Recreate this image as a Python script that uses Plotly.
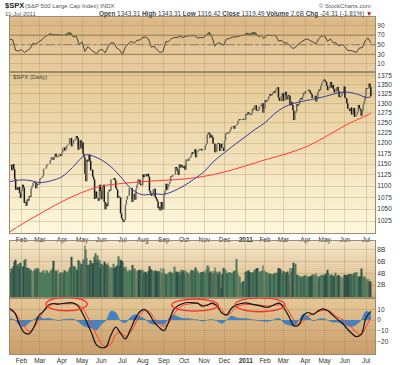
import plotly.graph_objects as go
import math

# ---------------- DATA ----------------
# trading-day index 0 = 13-Jan-2010 ... 375 = 11-Jul-2011
month_start = [12, 31, 54, 75, 95, 117, 138, 160, 181, 202, 223, 245, 265, 284, 307, 327, 348, 370]
month_labels = ['Feb', 'Mar', 'Apr', 'May', 'Jun', 'Jul', 'Aug', 'Sep', 'Oct', 'Nov', 'Dec', '<b>2011</b>',
                'Feb', 'Mar', 'Apr', 'May', 'Jun', 'Jul']

close_2010 = [
    1146, 1148, 1136, 1150, 1138, 1116, 1092, 1097, 1092, 1098, 1085, 1074,
    1089, 1103, 1097, 1063, 1066, 1057, 1071, 1068, 1078, 1076, 1095, 1100, 1107, 1109, 1108, 1095, 1105, 1103, 1104,
    1116, 1118, 1119, 1123, 1139, 1139, 1140, 1146, 1150, 1150, 1151, 1159, 1166, 1166, 1160, 1166, 1174, 1168, 1166, 1167, 1173, 1173, 1169,
    1178, 1187, 1189, 1182, 1186, 1194, 1196, 1197, 1211, 1212, 1192, 1198, 1207, 1206, 1209, 1217, 1212, 1184, 1191, 1207, 1187,
    1202, 1174, 1166, 1128, 1111, 1160, 1156, 1172, 1157, 1136, 1137, 1121, 1115, 1072, 1088, 1074, 1074, 1068, 1103, 1089,
    1071, 1098, 1103, 1065, 1050, 1062, 1056, 1087, 1092, 1090, 1115, 1115, 1116, 1118, 1113, 1095, 1092, 1074, 1077, 1075, 1041, 1031,
    1027, 1023, 1028, 1060, 1070, 1078, 1079, 1095, 1095, 1096, 1065, 1071, 1083, 1070, 1094, 1103, 1115, 1114, 1106, 1102, 1102,
    1126, 1120, 1127, 1126, 1122, 1128, 1121, 1089, 1084, 1079, 1079, 1093, 1094, 1076, 1072, 1067, 1052, 1055, 1047, 1065, 1049, 1049,
    1080, 1090, 1105, 1092, 1099, 1104, 1110, 1122, 1121, 1125, 1125, 1126, 1143, 1140, 1134, 1125, 1149, 1142, 1148, 1145, 1141,
    1146, 1137, 1161, 1160, 1158, 1165, 1165, 1170, 1178, 1174, 1176, 1185, 1166, 1178, 1180, 1183, 1186, 1186, 1182, 1184, 1183,
    1184, 1194, 1198, 1221, 1226, 1223, 1213, 1219, 1214, 1199, 1198, 1178, 1179, 1197, 1200, 1198, 1181, 1198, 1189, 1188, 1181,
    1206, 1222, 1225, 1223, 1224, 1228, 1233, 1240, 1240, 1242, 1235, 1243, 1244, 1247, 1255, 1259, 1257, 1258, 1259, 1260, 1258, 1258,
]
close_2011 = [
    1272, 1270, 1277, 1274, 1272, 1270, 1274, 1286, 1284, 1293, 1295, 1282, 1280, 1283, 1291, 1291, 1297, 1300, 1276, 1286,
    1308, 1304, 1307, 1311, 1319, 1325, 1321, 1322, 1329, 1332, 1328, 1336, 1340, 1343, 1315, 1307, 1306, 1320, 1327,
    1306, 1308, 1331, 1321, 1310, 1322, 1320, 1295, 1304, 1296, 1282, 1257, 1274, 1279, 1298, 1294, 1298, 1310, 1314, 1310, 1319, 1328, 1326,
    1332, 1333, 1333, 1336, 1334, 1328, 1324, 1314, 1314, 1315, 1320, 1305, 1313, 1330, 1337, 1335, 1347, 1356, 1360, 1364,
    1361, 1357, 1347, 1335, 1340, 1346, 1357, 1342, 1349, 1338, 1329, 1329, 1341, 1344, 1333, 1317, 1316, 1320, 1326, 1331, 1345,
    1315, 1313, 1300, 1286, 1285, 1280, 1289, 1271, 1272, 1288, 1265, 1268, 1272, 1278, 1296, 1287, 1284, 1268, 1280, 1297, 1307, 1321,
    1340, 1338, 1339, 1353, 1344, 1319,
]

volume_2010 = [  # billions
    4.2, 4.0, 4.8, 4.3, 5.2, 6.0, 6.3, 5.5, 5.3, 5.6, 5.0, 5.8,
    5.2, 5.0, 5.2, 6.2, 6.4, 5.0, 4.8, 4.9, 4.6, 4.5, 4.7, 4.4, 4.3, 4.6, 4.8, 4.6, 4.5, 4.9, 4.7,
    4.2, 4.1, 4.0, 4.3, 4.5, 3.8, 4.0, 4.5, 4.3, 4.0, 3.9, 4.4, 4.6, 4.8, 6.1, 4.2, 4.5, 4.3, 4.4, 4.6, 3.9, 4.0, 4.1,
    4.2, 3.9, 4.1, 4.5, 4.3, 4.2, 4.1, 4.4, 4.8, 5.1, 6.8, 5.3, 5.0, 5.2, 4.9, 4.6, 4.5, 6.2, 5.9, 5.0, 5.6,
    5.0, 6.3, 6.4, 8.7, 8.0, 6.6, 5.4, 5.2, 5.5, 6.2, 5.8, 5.7, 5.6, 6.8, 7.4, 6.2, 7.0, 6.0, 6.3, 5.0,
    5.6, 5.4, 5.2, 6.0, 5.6, 5.5, 5.4, 5.8, 5.2, 4.9, 5.1, 5.0, 4.8, 5.6, 4.9, 5.0, 5.2, 5.4, 6.9, 5.2, 6.3, 6.1,
    6.0, 5.0, 4.9, 5.1, 4.6, 4.2, 4.3, 4.6, 4.4, 4.5, 5.4, 4.8, 4.6, 4.8, 4.5, 4.3, 4.1, 4.5, 4.6, 4.5, 4.4,
    4.6, 4.1, 4.3, 4.2, 4.0, 3.8, 4.4, 5.2, 4.7, 4.6, 4.3, 4.4, 4.1, 4.5, 4.3, 4.0, 4.4, 4.3, 4.2, 4.9, 3.9, 4.3,
    4.8, 4.0, 3.9, 3.8, 3.9, 4.0, 4.2, 4.3, 4.1, 4.0, 4.0, 5.1, 4.2, 4.3, 4.2, 4.0, 4.3, 3.8, 4.6, 4.2, 4.5,
    4.4, 3.9, 4.5, 4.2, 4.0, 3.8, 3.9, 4.3, 4.6, 4.4, 4.5, 4.2, 5.0, 4.5, 4.3, 4.1, 3.9, 4.0, 4.2, 4.1, 4.3,
    4.0, 4.1, 4.6, 5.3, 5.1, 4.1, 4.3, 4.1, 4.0, 4.4, 4.0, 5.0, 4.4, 4.2, 4.0, 3.8, 4.3, 3.8, 1.6, 3.9, 4.9,
    4.8, 4.5, 4.0, 4.0, 4.1, 4.2, 4.0, 4.1, 4.0, 4.3, 4.4, 4.5, 6.4, 4.6, 3.9, 3.6, 3.4, 2.4, 2.3, 2.5, 2.7, 2.0,
]
volume_2011 = [
    4.3, 4.2, 4.4, 4.5, 4.2, 4.0, 4.1, 4.2, 4.1, 4.6, 4.6, 4.8, 4.9, 4.2, 4.3, 4.2, 4.4, 4.5, 5.3, 4.4,
    4.5, 4.1, 4.2, 4.0, 3.9, 4.0, 3.9, 3.8, 3.9, 3.8, 4.0, 4.1, 4.0, 4.1, 4.9, 4.8, 4.7, 4.0, 3.8,
    4.4, 4.1, 4.2, 4.0, 4.3, 3.9, 3.8, 4.9, 4.3, 4.2, 4.9, 5.8, 4.7, 5.6, 3.8, 3.7, 3.6, 3.5, 3.4, 3.3, 3.5, 3.4, 3.6,
    3.7, 3.3, 3.4, 3.5, 3.3, 3.5, 3.6, 3.8, 3.7, 3.5, 3.9, 4.0, 3.5, 3.6, 3.2, 3.4, 3.6, 3.7, 3.6, 3.8,
    3.6, 3.8, 4.0, 4.6, 4.0, 3.5, 3.6, 3.8, 3.4, 3.6, 3.5, 4.1, 3.6, 3.5, 3.7, 3.6, 3.4, 3.5, 3.3, 3.1, 3.4,
    3.8, 3.6, 3.7, 3.6, 3.8, 3.9, 3.6, 3.9, 3.8, 3.6, 4.1, 3.8, 4.2, 3.4, 3.5, 3.4, 3.5, 4.8, 3.3, 3.4, 3.3, 3.6,
    3.2, 2.9, 3.1, 3.0, 2.6, 2.6,
]

# 50-day (blue) and 200-day (red) moving averages
ma50_x = [0, 12, 22, 31, 43, 54, 65, 75, 80, 95, 106, 117, 127, 138, 149, 160, 170, 181, 191, 202,
          212, 223, 234, 245, 255, 265, 274, 284, 295, 307, 317, 327, 337, 348, 359, 370, 375]
ma50 = [1110, 1114, 1112, 1108, 1112, 1121, 1142, 1166, 1172, 1160, 1142, 1116, 1092, 1081, 1083, 1082, 1089, 1101, 1115, 1133,
        1157, 1177, 1197, 1216, 1234, 1250, 1271, 1289, 1300, 1307, 1312, 1318, 1325, 1330, 1326, 1316, 1317]
ma200_x = [0, 12, 31, 54, 75, 95, 117, 138, 160, 181, 202, 223, 245, 265, 284, 307, 327, 348, 370, 375]
ma200 = [1003, 1018, 1040, 1066, 1086, 1100, 1106, 1110, 1113, 1116, 1122, 1132, 1146, 1160, 1172, 1190, 1214, 1243, 1268, 1274]

# RSI(14), sampled every 3 trading days
rsi = [62, 60, 38, 37, 40, 34, 38, 42, 53, 51,
       56, 60, 66, 70, 73, 71, 71, 71, 70, 70,
       74, 75, 66, 68, 50, 56, 36, 46, 40, 36,
       31, 39, 40, 33, 46, 54, 54, 43, 39, 30,
       45, 52, 57, 53, 59, 60, 65, 66, 62, 45,
       47, 39, 34, 36, 56, 57, 63, 65, 65, 68,
       65, 68, 69, 69, 69, 64, 65, 65, 70, 76,
       66, 47, 54, 53, 49, 62, 63, 66, 66, 68,
       69, 70, 74, 72, 75, 75, 67, 69, 63, 70,
       69, 69, 70, 58, 59, 54, 54, 48, 42, 45,
       52, 56, 60, 62, 59, 55, 52, 63, 68, 69,
       57, 62, 54, 54, 47, 51, 46, 38, 38, 36,
       34, 43, 44, 58, 64, 54]

# MACD(12,26,9), signal and histogram, sampled every 5 trading days
macd = [10.7, 6.8, -4.0, -11.6, -12.5, -6.4, 4.0, 8.3, 13.8, 15.3,
        14.7, 15.3, 15.9, 15.9, 13.8, 7.0, -2.1, -12.2, -22.9, -25.4,
        -24.5, -13.8, -6.4, -12.2, -17.4, -9.2, 0.9, 7.7, 9.8, 5.2,
        -2.1, -6.7, -9.8, -1.5, 9.5, 13.5, 15.3, 16.2, 15.9, 15.6,
        12.8, 13.8, 15.6, 13.1, 6.7, 4.6, 10.7, 13.8, 15.3, 15.9,
        15.0, 14.1, 13.1, 11.9, 12.2, 14.4, 15.6, 10.7, 3.1, -5.2,
        -4.6, 4.6, 7.0, 5.2, 8.3, 10.4, 8.9, 4.9, 0.9, -2.4,
        -7.6, -12.2, -15.3, -13.2, 2.1, 8.0]
signal = [9.2, 6.7, 0.6, -5.8, -10.4, -7.0, 0.6, 7.9, 12.2, 14.7,
          15.0, 15.0, 15.0, 15.0, 14.4, 11.3, 4.3, -4.6, -13.8, -21.7,
          -24.2, -22.0, -13.2, -11.3, -15.0, -11.6, -4.0, 4.6, 8.6, 7.7,
          1.8, -3.7, -5.8, -2.8, 4.9, 10.7, 13.8, 14.7, 15.3, 15.3,
          13.8, 13.8, 15.0, 13.8, 9.8, 4.6, 7.0, 11.6, 13.8, 14.4,
          14.4, 14.1, 13.8, 13.1, 13.1, 13.8, 14.1, 13.5, 7.7, 0.0,
          -4.0, -0.9, 4.0, 5.8, 7.7, 8.9, 8.9, 6.7, 2.7, 0.9,
          -2.4, -6.4, -11.3, -13.2, -6.1, 2.1]
hist = [1.5, 0.1, -4.6, -5.8, -2.1, 0.6, 3.4, 1.0, 1.6, 0.6,
        -0.3, 0.3, 0.9, 0.9, -0.6, -4.3, -6.4, -7.6, -9.1, -3.7,
        -0.3, 8.2, 6.8, -0.9, -2.4, 2.4, 4.9, 3.1, 1.2, -2.5,
        -3.9, -3.0, -4.0, 1.3, 4.6, 2.8, 1.5, 1.5, 0.6, 0.3,
        -1.0, 0.0, 0.6, -0.7, -3.1, 0.0, 3.7, 2.2, 1.5, 1.5,
        0.6, 0.0, -0.7, -1.2, -0.9, 0.6, 1.5, -2.8, -4.6, -5.2,
        -0.6, 5.5, 3.0, -0.6, 0.6, 1.5, 0.0, -1.8, -1.8, -3.3,
        -5.2, -5.8, -4.0, 0.0, 8.2, 6.0]

price_ticks = [1025, 1050, 1075, 1100, 1125, 1150, 1175, 1200, 1225, 1250, 1275, 1300, 1325, 1350, 1375]

# ---------------- BUILD ----------------
close = close_2010 + close_2011
volume = volume_2010 + volume_2011
N = len(close)
assert N == 376 and len(volume) == N, (N, len(volume))
assert len(rsi) == 126 and len(macd) == 76 and len(signal) == 76 and len(hist) == 76
days = list(range(N))
opens = [close[0]] + close[:-1]
highs = [max(o, c) for o, c in zip(opens, close)]
lows = [min(o, c) for o, c in zip(opens, close)]
rsi_x = list(range(0, N, 3))
macd_x = list(range(0, N, 5))

W, H = 400, 365
XL, XR = 9.5, 375.0
P_RSI = (17.3, 72.3)
P_PRICE = (72.3, 234.5)
P_VOL = (242.5, 299.5)
P_MACD = (299.5, 356.0)


def dom(p):
    return [1 - p[1] / H, 1 - p[0] / H]


XDOM = [XL / W, XR / W]
XRANGE = [-0.4, 379.3]

fig = go.Figure()

# RSI panel
fig.add_trace(go.Scatter(x=rsi_x, y=[70] * len(rsi_x), mode='lines', line=dict(width=0),
                         hoverinfo='skip', xaxis='x', yaxis='y', showlegend=False))
fig.add_trace(go.Scatter(x=rsi_x, y=[max(v, 70) for v in rsi], mode='lines', line=dict(width=0),
                         fill='tonexty', fillcolor='#5d8a4c', xaxis='x', yaxis='y', showlegend=False))
fig.add_trace(go.Scatter(x=rsi_x, y=rsi, mode='lines', line=dict(color='#222', width=0.8),
                         xaxis='x', yaxis='y', showlegend=False))

# Price panel
fig.add_trace(go.Ohlc(x=days, open=opens, high=highs, low=lows, close=close,
                      increasing=dict(line=dict(color='#6e6e60', width=1.5)),
                      decreasing=dict(line=dict(color='#151515', width=1.5)),
                      tickwidth=0.05, xaxis='x2', yaxis='y2', showlegend=False))
fig.add_trace(go.Scatter(x=ma200_x, y=ma200, mode='lines', line=dict(color='#ff3b30', width=1, shape='spline'),
                         xaxis='x2', yaxis='y2', showlegend=False))
fig.add_trace(go.Scatter(x=ma50_x, y=ma50, mode='lines', line=dict(color='#3a3a9a', width=1, shape='spline'),
                         xaxis='x2', yaxis='y2', showlegend=False))

# Volume panel
vcolors = ['#4c7a5a' if i == 0 or close[i] >= close[i - 1] else '#33504a' for i in range(N)]
fig.add_trace(go.Bar(x=days, y=volume, width=0.85, marker=dict(color=vcolors, line=dict(width=0)),
                     xaxis='x3', yaxis='y3', showlegend=False))

# MACD panel
fig.add_trace(go.Scatter(x=macd_x, y=hist, mode='lines', fill='tozeroy', fillcolor='#4583c0',
                         line=dict(color='#3b78b5', width=0.5, shape='spline'),
                         xaxis='x4', yaxis='y4', showlegend=False))
fig.add_trace(go.Scatter(x=macd_x, y=signal, mode='lines', line=dict(color='#ff3b30', width=1, shape='spline'),
                         xaxis='x4', yaxis='y4', showlegend=False))
fig.add_trace(go.Scatter(x=macd_x, y=macd, mode='lines', line=dict(color='#111111', width=1.2, shape='spline'),
                         xaxis='x4', yaxis='y4', showlegend=False))

FONT = 'Liberation Sans, Arial, sans-serif'
tickfont = dict(family=FONT, size=6.5, color='#333333')
GRID = 'rgba(150,125,85,0.28)'
BORDER = '#a08a6c'


def xax(anchor, show):
    return dict(domain=XDOM, range=XRANGE, anchor=anchor, tickmode='array', tickvals=month_start,
                ticktext=month_labels, showticklabels=show, ticks='', showgrid=True, gridcolor=GRID,
                gridwidth=1, zeroline=False, showline=True, linecolor=BORDER, linewidth=1, mirror=True,
                tickfont=tickfont, fixedrange=True, rangeslider=dict(visible=False))


def yax(anchor, domain, rng, tickvals, ticktext=None, typ='linear'):
    d = dict(domain=domain, range=rng, anchor=anchor, side='right', tickmode='array', tickvals=tickvals,
             showgrid=True, gridcolor=GRID, gridwidth=1, zeroline=False, showline=True, linecolor=BORDER,
             linewidth=1, mirror=True, ticks='', tickfont=tickfont, type=typ, fixedrange=True)
    if ticktext is not None:
        d['ticktext'] = ticktext
    return d


shapes = []


def hexrgb(h):
    h = h.lstrip('#')
    return [int(h[i:i + 2], 16) for i in (0, 2, 4)]


def gradient(panel, ctop, cbot, n=28):
    t, b = panel
    c1, c2 = hexrgb(ctop), hexrgb(cbot)
    for i in range(n):
        y0 = t + (b - t) * i / n
        y1 = t + (b - t) * (i + 1) / n + 0.3
        f = (i + 0.5) / n
        col = 'rgb(%d,%d,%d)' % tuple(round(a + (bb - a) * f) for a, bb in zip(c1, c2))
        shapes.append(dict(type='rect', xref='paper', yref='paper', x0=XL / W, x1=XR / W,
                           y0=1 - min(y1, b) / H, y1=1 - y0 / H, fillcolor=col, line=dict(width=0),
                           layer='below'))


gradient(P_RSI, '#dab682', '#e9cd9e')
gradient(P_PRICE, '#e4c792', '#fdf8dc')
gradient(P_VOL, '#f3e6c6', '#d5ac78')
gradient(P_MACD, '#e5c897', '#c99d6a')

# RSI reference lines
for lvl, dash, col in [(70, 'solid', '#9c7f5c'), (30, 'solid', '#9c7f5c'), (50, 'dashdot', '#8a7766')]:
    shapes.append(dict(type='line', xref='x domain', yref='y', x0=0, x1=1, y0=lvl, y1=lvl,
                       line=dict(color=col, width=1, dash=dash)))

# red hand-drawn ellipses on MACD panel
for x0, x1, y0, y1 in [(37.5, 80.4, 8.6, 20.9), (168.1, 216.5, 8.3, 19.3), (233.9, 285.8, 7.7, 20.4)]:
    shapes.append(dict(type='circle', xref='x4', yref='y4', x0=x0, x1=x1, y0=y0, y1=y1,
                       line=dict(color='#ff2a2a', width=1.3)))


def ann(text, x, y, size, color='#333', anchor='left'):
    return dict(text=text, x=x / W, y=1 - y / H, xref='paper', yref='paper', xanchor=anchor,
                yanchor='middle', showarrow=False, font=dict(family=FONT, size=size, color=color))


annotations = [
    ann('<b>$SPX</b>', 3, 6, 7.5, '#222'),
    ann('(S&P 500 Large Cap Index) INDX', 23, 6.3, 6, '#555'),
    ann('© StockCharts.com', 373, 6.3, 6, '#555', anchor='right'),
    ann('11-Jul-2011', 3, 14, 6, '#555'),
    ann('<b>Open</b> 1343.31 <b>High</b> 1343.31 <b>Low</b> 1316.42 <b>Close</b> 1319.49 '
        '<b>Volume</b> 2.6B <b>Chg</b> -24.31 (-1.81%) <span style="color:#e00000">▼</span>',
        374, 14, 6.4, '#444', anchor='right'),
    ann('$SPX (Daily)', 11, 77.5, 6, '#444'),
]

fig.update_layout(
    width=W, height=H, autosize=False,
    margin=dict(l=0, r=0, t=0, b=0),
    paper_bgcolor='white', plot_bgcolor='rgba(0,0,0,0)',
    showlegend=False, hovermode=False,
    xaxis=xax('y', False),
    xaxis2=xax('y2', True),
    xaxis3=xax('y3', False),
    xaxis4=xax('y4', True),
    yaxis=yax('x', dom(P_RSI), [-6.6, 107.4], [10, 30, 50, 70, 90]),
    yaxis2=yax('x2', dom(P_PRICE), [math.log10(1000.2), math.log10(1385.3)], price_ticks, typ='log'),
    yaxis3=yax('x3', dom(P_VOL), [-0.15, 9.43], [2, 4, 6, 8], ['2B', '4B', '6B', '8B']),
    yaxis4=yax('x4', dom(P_MACD), [-31.3, 20.5], [-20, -10, 0, 10]),
    shapes=shapes,
    annotations=annotations,
)

fig.write_html('out.html', config={'displayModeBar': False},
               post_script="document.body.style.margin='0';document.body.style.padding='0';"
                           "document.body.style.overflow='hidden';")
